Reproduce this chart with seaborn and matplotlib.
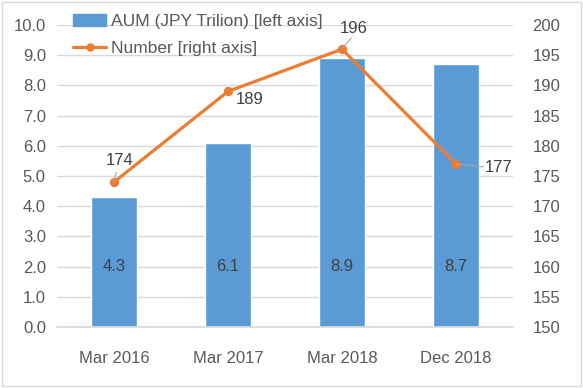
import numpy as np
import pandas as pd
import matplotlib.pyplot as plt
import seaborn as sns
from matplotlib.lines import Line2D
from matplotlib.patches import Patch, Rectangle

periods = ["Mar 2016", "Mar 2017", "Mar 2018", "Dec 2018"]
aum = [4.3, 6.1, 8.9, 8.7]
number = [174, 189, 196, 177]

BLUE = "#5B9BD5"
ORANGE = "#ED7D31"
TXT = "#595959"

sns.set_theme(style="white")
plt.rcParams["font.family"] = ["Liberation Sans", "DejaVu Sans"]

df = pd.DataFrame({"period": periods, "aum": aum, "number": number})

fig = plt.figure(figsize=(5.83, 3.88), dpi=100)
ax = fig.add_axes([57 / 583, 61 / 388, 456 / 583, 302 / 388])

sns.barplot(data=df, x="period", y="aum", color=BLUE, width=0.4,
            saturation=1, ax=ax, zorder=2)
ax.set_ylim(0, 10)
ax.set_yticks(np.arange(0, 10.1, 1))
ax.set_yticklabels([f"{v:.1f}" for v in np.arange(0, 10.1, 1)])
ax.yaxis.grid(True, color="#D9D9D9", lw=1, zorder=0)
ax.set_axisbelow(True)
ax.set_xlabel("")
ax.set_ylabel("")
for s in ["top", "left", "right"]:
    ax.spines[s].set_visible(False)
ax.spines["bottom"].set_color("#D9D9D9")
ax.tick_params(axis="both", length=0, labelsize=12, colors=TXT, pad=8)
ax.tick_params(axis="x", pad=17)

for i, v in enumerate(aum):
    ax.text(i, 2.0, f"{v:.1f}", ha="center", va="center", fontsize=12, color="#404040")

ax2 = ax.twinx()
sns.pointplot(data=df, x="period", y="number", color=ORANGE, markers="o",
              markersize=5, linewidth=2.3, ax=ax2)
ax2.set_ylim(150, 200)
ax2.set_yticks(np.arange(150, 201, 5))
ax2.set_ylabel("")
ax2.set_xlabel("")
for s in ax2.spines.values():
    s.set_visible(False)
ax2.tick_params(axis="y", length=0, labelsize=12, colors=TXT, pad=14)
ax.set_xlim(-0.5, 3.5)
ax2.set_xlim(-0.5, 3.5)

lbl = dict(fontsize=12, color="#404040")
ax2.text(0.05, 177.6, "174", ha="center", va="center", **lbl)
ax2.plot([0.0, 0.02], [174.2, 175.6], color="#A6A6A6", lw=0.8)
ax2.text(1.19, 187.6, "189", ha="center", va="center", **lbl)
ax2.text(2.1, 199.5, "196", ha="center", va="center", **lbl)
ax2.plot([2.0, 2.08], [196.2, 197.8], color="#A6A6A6", lw=0.8)
ax2.text(3.25, 176.4, "177", ha="left", va="center", **lbl)
ax2.plot([3.0, 3.24], [177, 176.5], color="#A6A6A6", lw=0.8)

handles = [Patch(color=BLUE),
           Line2D([0], [0], color=ORANGE, lw=2.3, marker="o", markersize=5)]
labels = ["AUM (JPY Trilion) [left axis]", "Number [right axis]"]
ax.legend(handles, labels, loc="upper left", bbox_to_anchor=(0.02, 1.06),
          frameon=False, fontsize=12.5, labelcolor=TXT, handlelength=1.9,
          handletextpad=0.3, labelspacing=0.7, borderaxespad=0)

fig.patches.append(Rectangle((0.004, 0.004), 0.992, 0.992, transform=fig.transFigure,
                             fill=False, edgecolor="#D9D9D9", lw=1))

fig.savefig("out.png", dpi=100)
